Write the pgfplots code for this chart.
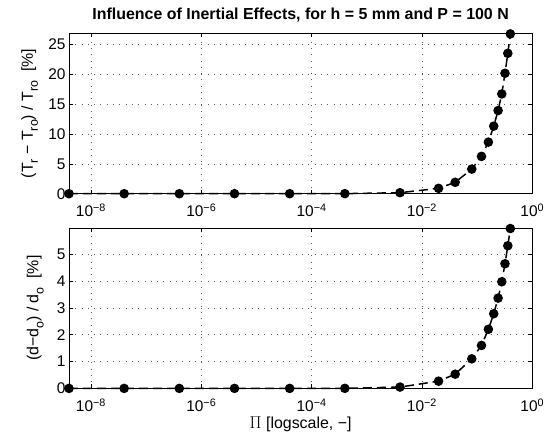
\documentclass[border=0pt]{standalone}
\usepackage{fontspec}
\setmainfont{Liberation Sans}
\usepackage{pgfplots}
\usepackage{pgfplotstable}
\pgfplotsset{compat=1.18}

% Pi [-], relative change of T_r and of d, both in %
\pgfplotstableread{
x     T      d
4e-9  0.00   0.000
4e-8  0.00   0.000
4e-7  0.00   0.000
4e-6  0.00   0.000
4e-5  0.00   0.000
4e-4  0.01   0.003
4e-3  0.17   0.050
0.02  0.90   0.270
0.04  1.91   0.530
0.08  4.13   1.100
0.12  6.26   1.600
0.16  8.65   2.200
0.20  11.33  2.780
0.24  13.95  3.360
0.28  16.73  3.970
0.32  20.20  4.640
0.36  23.54  5.310
0.40  26.80  5.950
}\inertia

\newcommand{\tickfont}{\fontsize{15.5}{18}\selectfont}
\newcommand{\labfont}{\fontsize{16}{19}\selectfont}
\newcommand{\sub}[1]{\raisebox{-0.32em}{\fontsize{12.5}{13}\selectfont #1}}

\pgfplotsset{
  every tick label/.append style={font=\tickfont},
  every axis label/.append style={font=\labfont},
  matstyle/.style={
    scale only axis, width=463.3bp, height=160.4bp,
    xmin=4e-9, xmax=1,
    xtick={1e-8,1e-6,1e-4,1e-2,1},
    xticklabels={10\textsuperscript{−8},10\textsuperscript{−6},10\textsuperscript{−4},10\textsuperscript{−2},10\textsuperscript{0}},
    xticklabel style={anchor=base, yshift=-23bp, inner sep=0.5bp},
    xminorticks=false,
    ymin=0,
    clip=false,
    tick align=inside,
    major tick length=4bp,
    tick style={line width=0.5bp, black},
    axis line style={line width=0.6bp},
    grid=major,
    grid style={line width=0.6bp, black!65, dash pattern=on 0.8bp off 5.5bp},
    /pgf/number format/assume math mode=true,
  },
  dotline/.style={black, line width=1.5bp, dash pattern=on 9bp off 5bp,
    mark=*, mark size=4bp, mark options={solid, fill=black}},
}

\begin{document}
\begin{tikzpicture}
\begin{semilogxaxis}[matstyle, at={(0bp,0bp)}, anchor=north west,
  ymax=26.9, ytick={0,5,10,15,20,25},
  title={Influence of Inertial Effects, for h = 5 mm and P = 100 N},
  title style={font=\bfseries\fontsize{16}{19}\selectfont,
    at={(axis description cs:0.5,1)}, anchor=base, yshift=7.5bp},
  ylabel={(T\sub{r} − T\sub{ro}) / T\sub{ro}~~[\%]},
  ylabel style={at={(axis description cs:-0.078,0.5)}, anchor=base}]
\addplot[dotline] table[x=x, y=T] {\inertia};
\end{semilogxaxis}

\begin{semilogxaxis}[matstyle, at={(0bp,-194.7bp)}, anchor=north west,
  ymax=5.97, ytick={0,1,2,3,4,5},
  xlabel={$\Pi$ [logscale, −]},
  xlabel style={at={(axis description cs:0.5,-0.248)}, anchor=base, inner sep=0.5bp},
  ylabel={(d−d\sub{o}) / d\sub{o}~~[\%]},
  ylabel style={at={(axis description cs:-0.066,0.5)}, anchor=base}]
\addplot[dotline] table[x=x, y=d] {\inertia};
\end{semilogxaxis}

\pgfresetboundingbox
\useasboundingbox (-69bp,33.3bp) rectangle (475bp,-407.7bp);
\end{tikzpicture}
\end{document}
